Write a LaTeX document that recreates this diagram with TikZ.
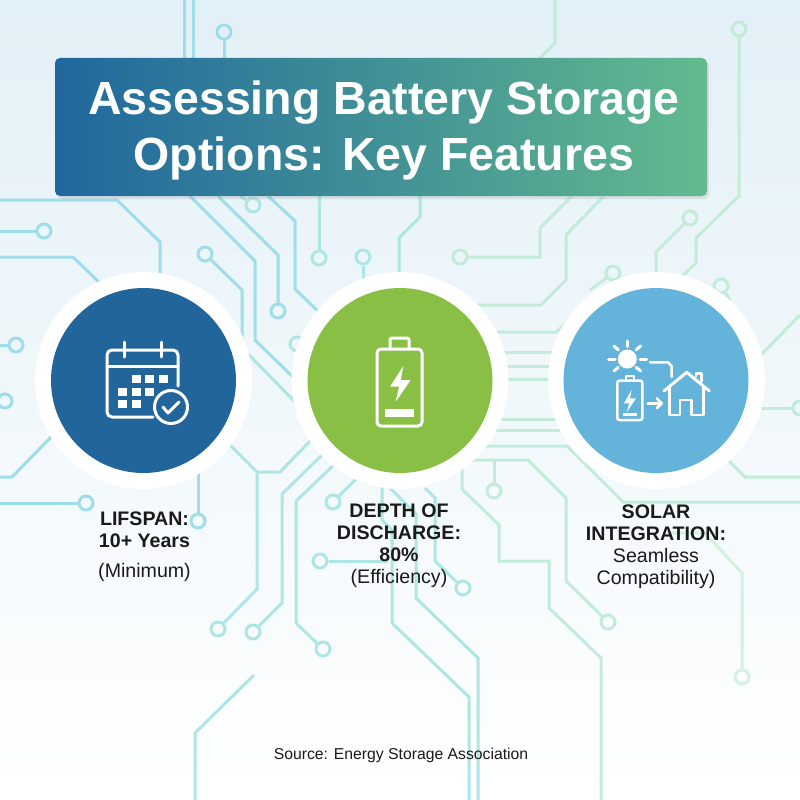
\documentclass[tikz,border=0pt]{standalone}
\usepackage{fontspec}
\setmainfont{Liberation Sans}
\usetikzlibrary{shadows}
\definecolor{tracea}{HTML}{9FDDEA}
\definecolor{traceb}{HTML}{AEE5E5}
\definecolor{tracec}{HTML}{C2ECD9}
\definecolor{traced}{HTML}{D2F1E0}
\definecolor{bgtop}{HTML}{E2F0F7}
\definecolor{bgmid}{HTML}{ECF5F9}
\definecolor{bannerl}{HTML}{20679E}
\definecolor{bannerr}{HTML}{62BA8E}
\definecolor{diskblue}{HTML}{22659B}
\definecolor{diskgreen}{HTML}{8ABF45}
\definecolor{disksky}{HTML}{63B3DA}
\definecolor{inktext}{HTML}{1A1A1A}
\tikzset{
  trace/.style={line width=3pt,draw=#1},
  pad/.style={shape=circle,line width=3pt,draw=#1,inner sep=0pt,minimum size=14pt},
  ring/.style={shape=circle,fill=white,inner sep=0pt,minimum size=217pt},
  disk/.style={shape=circle,fill=#1,inner sep=0pt,minimum size=185pt},
  icon/.style={line width=3pt,draw=white,line join=round,line cap=round},
  iconfill/.style={fill=white,draw=none},
  featuretext/.style={text=inktext,align=center,inner sep=0pt,anchor=north,
    font=\fontsize{19.6}{22}\selectfont},
}
\newcommand{\padnode}[4]{\node[pad=#4] (#3) at (#1,#2) {};}
\begin{document}
\begin{tikzpicture}[x=1pt,y=-1pt]
\useasboundingbox (0,0) rectangle (800,800);
\shade[top color=bgtop,middle color=bgmid,bottom color=white] (0,0) rectangle (800,800);

%pads
\padnode{224}{32}{padtop}{tracea}
\padnode{44}{231}{padleftb}{tracea}
\padnode{205}{254}{padmida}{tracea}
\padnode{278}{311}{padmidb}{tracea}
\padnode{253}{205}{padmidc}{traceb}
\padnode{319}{258}{padmidd}{traceb}
\padnode{363}{257}{padmide}{traceb}
\padnode{297}{344}{padmidf}{traceb}
\padnode{16}{345}{padleftc}{tracea}
\padnode{5}{401}{padleftd}{tracea}
\padnode{86}{503}{padlefte}{tracea}
\padnode{198}{521}{padlowa}{tracea}
\padnode{218}{629}{padlowb}{traceb}
\padnode{253}{632}{padlowc}{traceb}
\padnode{323}{649}{padlowd}{traceb}
\padnode{333}{502}{padlowe}{traceb}
\padnode{320}{561}{padlowf}{traceb}
\padnode{463}{588}{padlowg}{traceb}
\padnode{494}{491}{padlowh}{tracec}
\padnode{608}{622}{padlowi}{tracec}
\padnode{742}{677}{padlowj}{traced}
\padnode{460}{257}{padrighta}{tracec}
\padnode{739}{29}{padrightb}{tracec}
\padnode{690}{218}{padrightc}{tracec}
\padnode{613}{273}{padrightd}{tracec}
\padnode{721}{286}{padrighte}{tracec}
\padnode{800}{408}{padrightf}{tracec}

%traces, left
\draw[trace=tracea] (184,0) -- (184,60);
\draw[trace=tracea] (193,0) -- (193,60);
\draw[trace=tracea] (padtop) -- (224,60);
\draw[trace=tracea] (0,200) -- (117,200) -- (160,242) -- (160,280);
\draw[trace=tracea] (0,231) -- (padleftb);
\draw[trace=tracea] (0,257) -- (73,257) -- (105,288);
\draw[trace=tracea] (padmida) -- (242,290) -- (242,340);
\draw[trace=tracea] (190,196) -- (255,261) -- (255,340) -- (295,379);
\draw[trace=tracea] (218,196) -- (278,255) -- (padmidb);
\draw[trace=traceb] (240,196) -- (padmidc);
\draw[trace=tracea] (268,196) -- (295,221) -- (295,289) -- (322,315);
\draw[trace=traceb] (319,190) -- (padmidd);
\draw[trace=traceb] (padmide) -- (363,285);
\draw[trace=traceb] (420,190) -- (420,217) -- (399,238) -- (399,280);
\draw[trace=traceb] (248,354) -- (298,405);
\draw[trace=tracea] (0,345) -- (padleftc);
\draw[trace=tracea] (0,401) -- (padleftd);
\draw[trace=tracea] (55,433) -- (12,477) -- (0,477);
\draw[trace=tracea] (0,503) -- (padlefte);
\draw[trace=tracea] (198,470) -- (padlowa);
\draw[trace=traceb] (228,443) -- (257,472) -- (257,589) -- (padlowb);
\draw[trace=traceb] (257,472) -- (280,472) -- (315,436);
\draw[trace=traceb] (325,452) -- (282,494) -- (282,603) -- (padlowc);
\draw[trace=traceb] (337,462) -- (296,501) -- (296,623) -- (padlowd);
\draw[trace=traceb] (358,477) -- (padlowe);
\draw[trace=traceb] (254,675) -- (195,733) -- (195,800);

%traces, middle
\draw[trace=traceb] (padlowf) -- (388,561);
\draw[trace=traceb] (382,485) -- (382,520) -- (392,530) -- (392,623) -- (469,697) -- (469,800);
\draw[trace=traceb] (390,488) -- (416,514) -- (416,598) -- (478,658) -- (478,800);
\draw[trace=traceb] (425,488) -- (435,498) -- (435,561) -- (padlowg);

%traces, right
\draw[trace=tracec] (555,0) -- (555,43) -- (535,63);
\draw[trace=tracec] (padrightb) -- (739,196) -- (696,238) -- (696,263) -- (678,280);
\draw[trace=tracec] (padrightc) -- (656,252) -- (656,280);
\draw[trace=tracec] (572,196) -- (540,228) -- (540,257) -- (padrighta);
\draw[trace=tracec] (604,196) -- (566,235) -- (566,280) -- (541,305) -- (470,305);
\draw[trace=tracec] (padrightd) -- (590,290);
\draw[trace=tracec] (padrighte) -- (730,300);
\draw[trace=tracec] (800,315) -- (755,361);
\draw[trace=tracec] (490,332) -- (556,332) -- (575,315);
\draw[trace=tracec] (500,352) -- (555,352);
\draw[trace=tracec] (500,366) -- (555,366);
\draw[trace=tracec] (500,379) -- (555,379);
\draw[trace=tracec] (495,419) -- (560,419);
\draw[trace=tracec] (490,430) -- (560,430);
\draw[trace=tracec] (480,446) -- (567,446) -- (623,502) -- (800,502);
\draw[trace=tracec] (470,460) -- (528,460) -- (566,498) -- (566,581) -- (padlowi);
\draw[trace=tracec] (494,460) -- (padlowh);
\draw[trace=tracec] (462,465) -- (462,489) -- (499,525) -- (499,561) -- (549,561) -- (549,608) -- (601,658) -- (601,800);
\draw[trace=tracec] (padrightf) -- (760,408);
\draw[trace=tracec] (725,457) -- (745,477) -- (800,477);
\draw[trace=traced] (667,533) -- (705,533) -- (742,573) -- (padlowj);

%title banner
\node[rounded corners=5pt,minimum width=652pt,minimum height=138pt,inner sep=0pt,
  left color=bannerl,right color=bannerr,
  drop shadow={opacity=0.18,shadow xshift=2pt,shadow yshift=-3pt}]
  (titlebanner) at (381,127) {};
\node[text=white,inner sep=0pt,align=center,font=\fontsize{46.5}{56.5}\selectfont\bfseries]
  (titletext) at (384,130.5) {Assessing Battery Storage\\Options: Key Features};

%disks
\node[ring] (lifering) at (143.5,380.5) {};
\node[ring] (depthring) at (400,380.5) {};
\node[ring] (solarring) at (656.5,380.5) {};
\node[disk=diskblue] (lifedisk) at (143.5,380.5) {};
\node[disk=diskgreen] (depthdisk) at (400,380.5) {};
\node[disk=disksky] (solardisk) at (656,380.5) {};

%calendar
\draw[icon,rounded corners=5pt] (178,386) -- (178,350) -- (107,350) -- (107,417) -- (153,417);
\draw[icon] (107,366) -- (178,366);
\draw[icon] (124,342) -- (124,357);
\draw[icon] (161,342) -- (161,357);
\fill[iconfill] (131.5,375) rectangle (140.5,383);
\fill[iconfill] (145,375) rectangle (154,383);
\fill[iconfill] (158.5,375) rectangle (167.5,383);
\fill[iconfill] (117.5,388) rectangle (126.5,396);
\fill[iconfill] (131.5,388) rectangle (140.5,396);
\fill[iconfill] (145,388) rectangle (154,396);
\fill[iconfill] (117.5,400) rectangle (126.5,408);
\fill[iconfill] (131.5,400) rectangle (140.5,408);
\fill[diskblue] (171,407) circle (18);
\draw[icon] (171,407) circle (16.5);
\draw[icon] (163,407) -- (168,413) -- (179,402);

%battery
\draw[icon,rounded corners=4pt] (377,349) rectangle (422,426);
\draw[icon,rounded corners=2pt] (390,349) -- (390,338) -- (409,338) -- (409,349);
\fill[iconfill] (403.3,366) -- (390,386.7) -- (399,386.7) -- (395.7,401.7) -- (410.7,380) -- (400.7,380) -- cycle;
\fill[iconfill] (385,409.3) rectangle (414,416.7);

%solar and house
\fill[iconfill] (627.3,359) circle (9.5);
\draw[icon] (627.3,341) -- (627.3,346.5);
\draw[icon] (608.5,359) -- (615,359);
\draw[icon] (640,359) -- (646.5,359);
\draw[icon] (614,346) -- (618.3,350);
\draw[icon] (640.7,346) -- (636,350);
\draw[icon] (614,371) -- (618.3,367.3);
\draw[icon] (640.7,371) -- (636,367.3);
\draw[icon,line width=2.5pt] (650,362.3) -- (668,362.3) -- (671.7,366) -- (671.7,377);
\draw[icon,rounded corners=2pt,line width=2.5pt] (617.3,380.7) rectangle (642.3,420);
\draw[icon,line width=2.5pt] (626,380.7) -- (626,376) -- (634,376) -- (634,380.7);
\fill[iconfill] (631.7,390) -- (624,403.3) -- (629.3,403.3) -- (626.7,412.3) -- (636,398.3) -- (630,398.3) -- cycle;
\fill[iconfill] (622.7,412.7) rectangle (637.3,416);
\draw[icon,line width=2.5pt] (647.7,403.3) -- (661.7,403.3);
\draw[icon,line width=2.5pt] (656.7,398.3) -- (661.7,403.3) -- (656.7,408.3);
\draw[icon] (664,391) -- (686.7,372.3) -- (709.3,391);
\draw[icon,line width=2.5pt] (669.3,387) -- (669.3,415) -- (680,415) -- (680,400) -- (691.7,400) -- (691.7,415) -- (703.3,415) -- (703.3,387);
\draw[icon,line width=2.5pt] (696,376.5) -- (696,373.5) -- (701.7,373.5) -- (701.7,381.5);

%labels
\node[featuretext] (lifelabel) at (144.5,511.5) {\textbf{LIFSPAN:}\\\textbf{10+ Years}\\[8pt](Minimum)};
\node[featuretext] (depthlabel) at (399,504) {\textbf{DEPTH OF}\\\textbf{DISCHARGE:}\\\textbf{80\%}\\(Efficiency)};
\node[featuretext] (solarlabel) at (656,505) {\textbf{SOLAR}\\\textbf{INTEGRATION:}\\Seamless\\Compatibility)};
\node[text=inktext,inner sep=0pt,font=\fontsize{15.75}{18}\selectfont] (sourcenote) at (401,755) {Source: Energy Storage Association};
\end{tikzpicture}
\end{document}
